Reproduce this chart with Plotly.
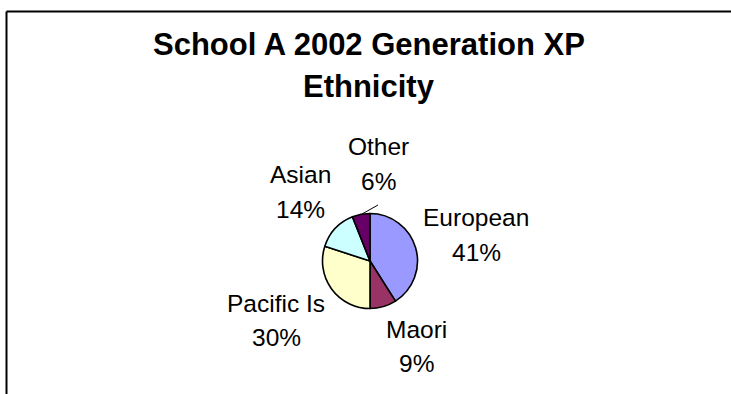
import plotly.graph_objects as go

# Ethnic mix of the 2002 intake
categories = ["European", "Maori", "Pacific Is", "Asian", "Other"]
shares = [41, 9, 30, 14, 6]
colors = ["#9999FF", "#993366", "#FFFFCC", "#CCFFFF", "#660066"]

W, H = 731, 394
FONT = "Liberation Sans, Arial, sans-serif"


def px(x):
    return x / W


def py(y):
    return 1 - y / H


# pie centre and radius in pixels
cx, cy, r = 370, 261, 47.5

fig = go.Figure(
    go.Pie(
        labels=categories,
        values=shares,
        sort=False,
        direction="clockwise",
        rotation=0,
        marker=dict(colors=colors, line=dict(color="black", width=1.6)),
        textinfo="none",
        hoverinfo="label+percent",
        showlegend=False,
        domain=dict(x=[px(cx - r), px(cx + r)], y=[py(cy + r), py(cy - r)]),
    )
)

annotations = []

# chart title, two lines
for text, y in [("School A 2002 Generation XP", 44), ("Ethnicity", 86)]:
    annotations.append(dict(
        text=f"<b>{text}</b>", x=px(368.5), y=py(y), xref="paper", yref="paper",
        xanchor="center", yanchor="middle", showarrow=False,
        font=dict(family=FONT, size=31, color="black"),
    ))

# label anchor points: (x centre, name line y, percent line y)
label_pos = {
    "European": (476.5, 217, 252.5),
    "Maori": (416, 329.5, 363.5),
    "Pacific Is": (276, 303, 337),
    "Asian": (300.5, 174, 209),
    "Other": (378, 146, 181),
}
total = sum(shares)
for name, val in zip(categories, shares):
    x, y1, y2 = label_pos[name]
    pct = f"{round(100 * val / total)}%"
    for text, y in [(name, y1), (pct, y2)]:
        annotations.append(dict(
            text=text, x=px(x), y=py(y), xref="paper", yref="paper",
            xanchor="center", yanchor="middle", showarrow=False,
            font=dict(family=FONT, size=24.5, color="black"),
        ))

shapes = [
    # chart frame (top and left edges visible)
    dict(type="line", xref="paper", yref="paper", x0=px(6.5), x1=px(731),
         y0=py(11.5), y1=py(11.5), line=dict(color="black", width=2)),
    dict(type="line", xref="paper", yref="paper", x0=px(6.5), x1=px(6.5),
         y0=py(11.5), y1=py(394), line=dict(color="black", width=2)),
    # leader line for the small "Other" slice
    dict(type="line", xref="paper", yref="paper", x0=px(362), x1=px(378),
         y0=py(214), y1=py(205), line=dict(color="black", width=1)),
]

fig.update_layout(
    width=W, height=H,
    margin=dict(l=0, r=0, t=0, b=0),
    paper_bgcolor="white",
    plot_bgcolor="white",
    annotations=annotations,
    shapes=shapes,
)

fig.write_html("out.html")
